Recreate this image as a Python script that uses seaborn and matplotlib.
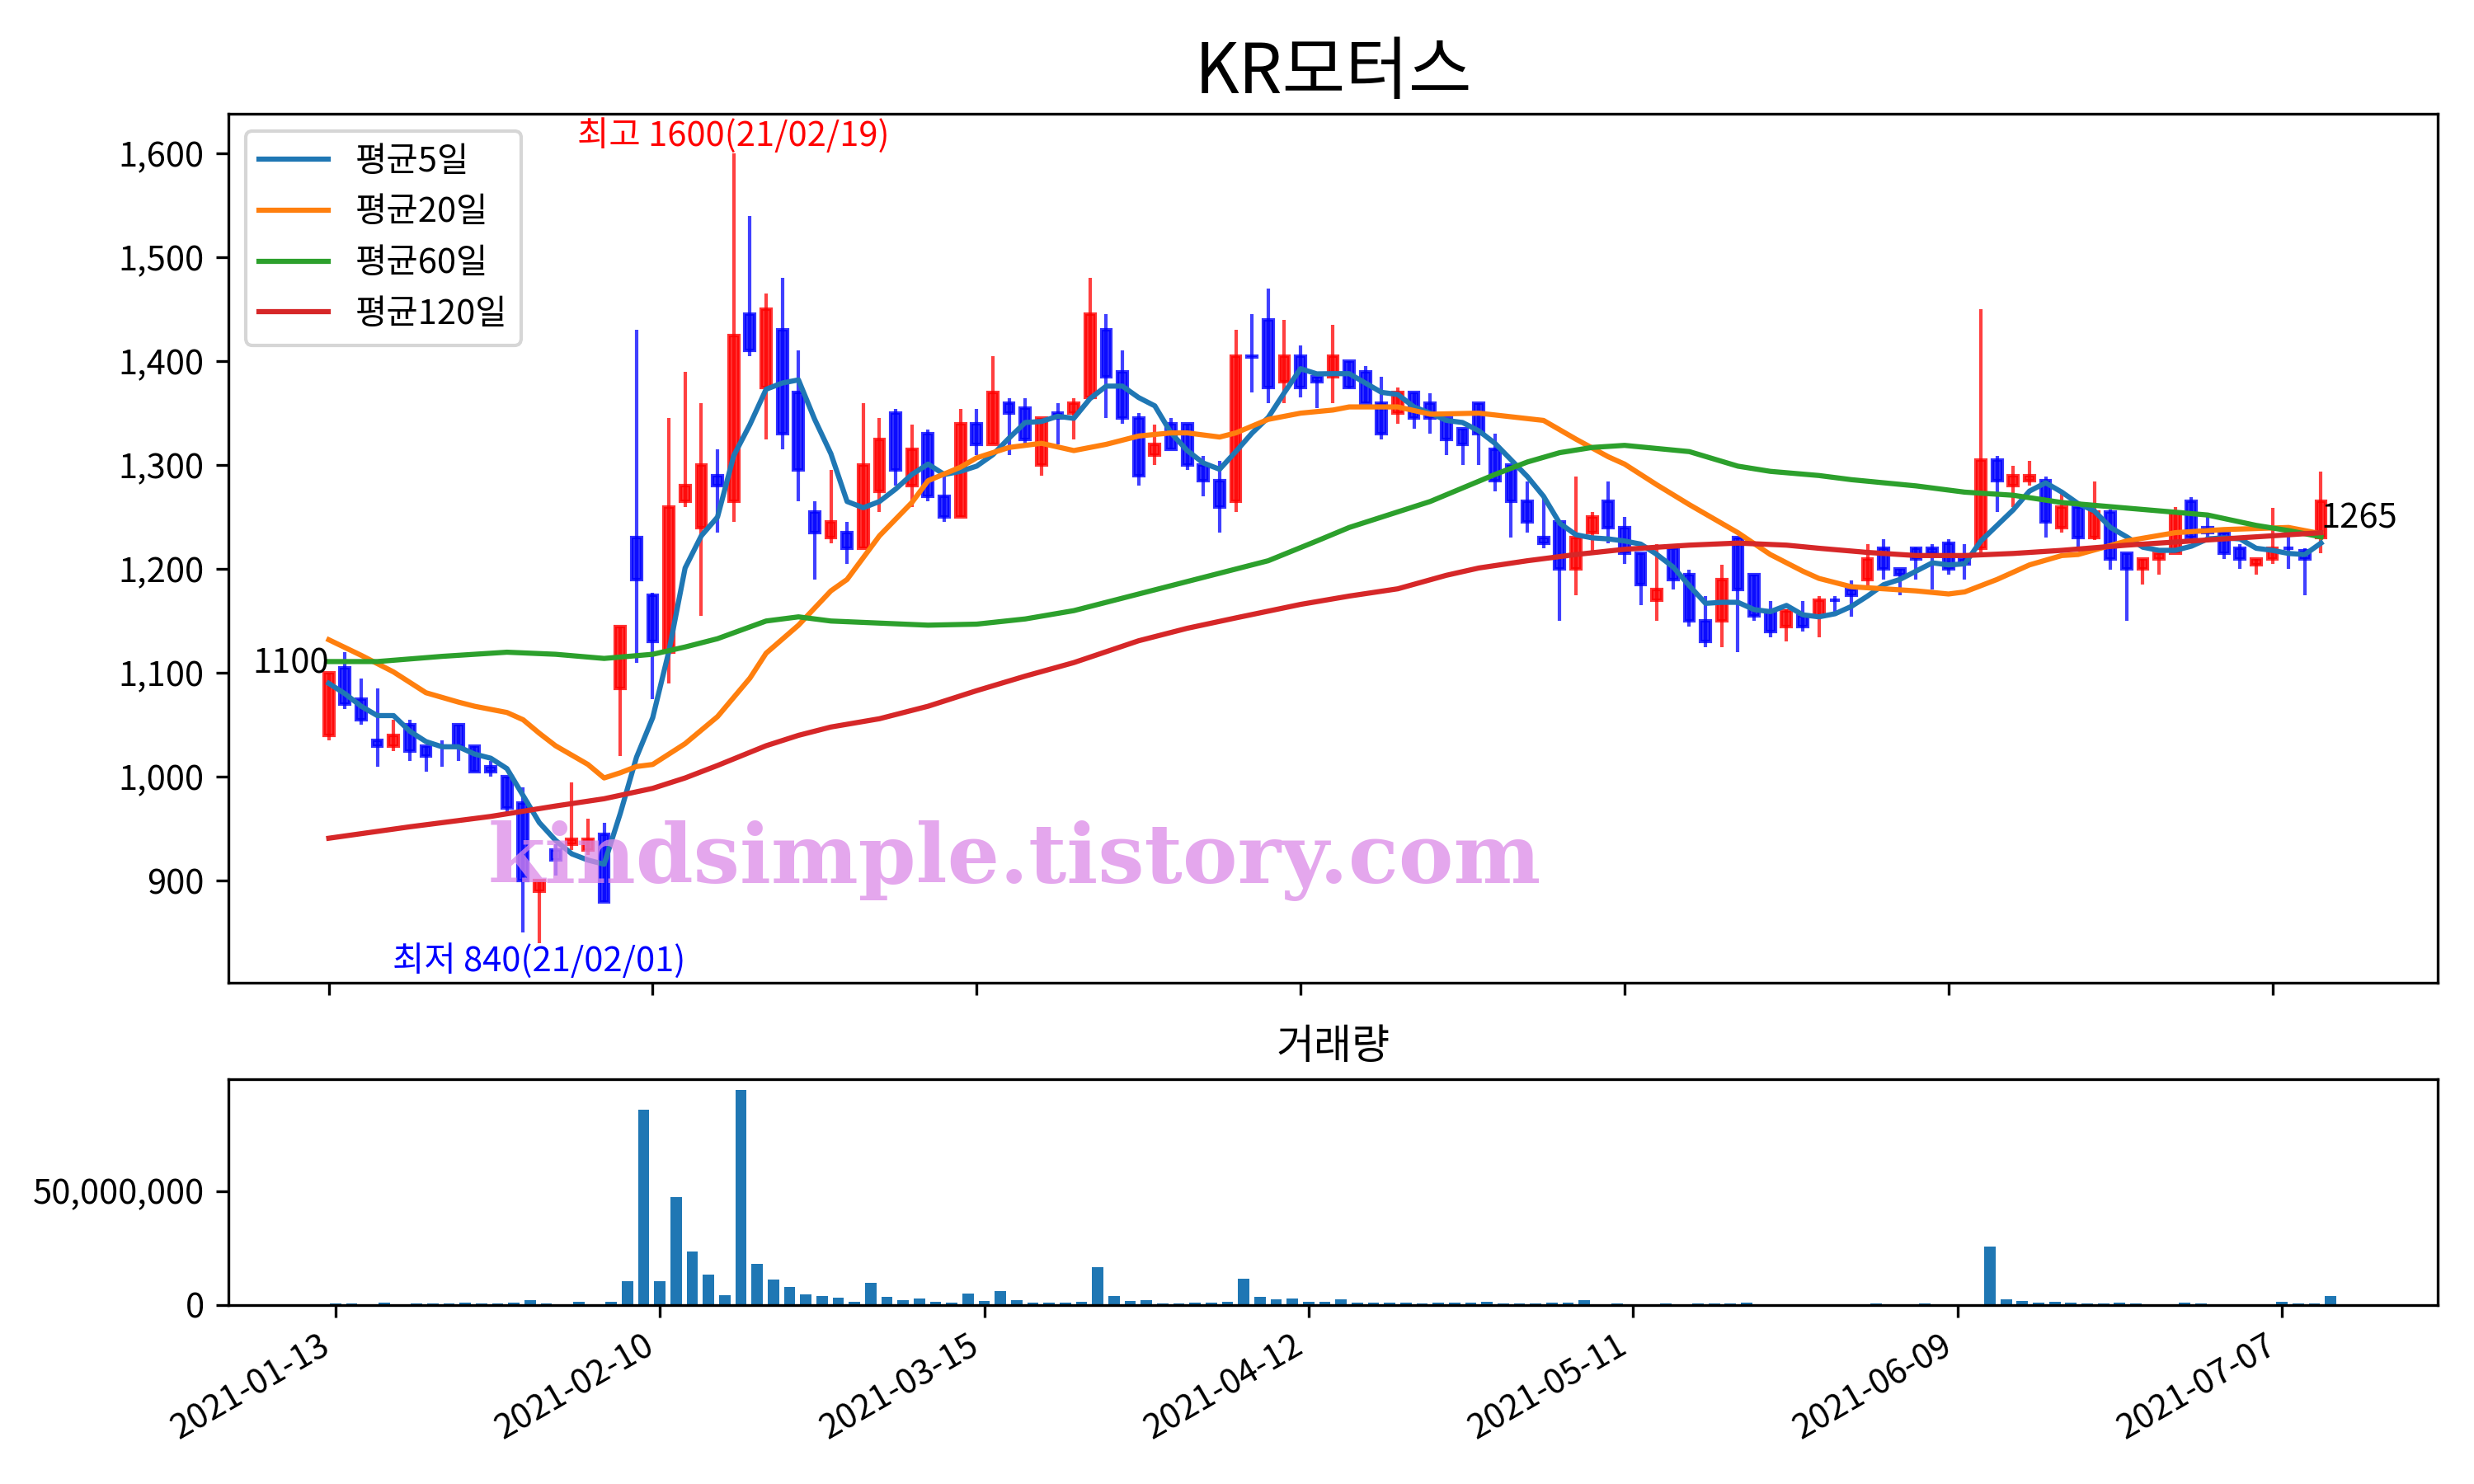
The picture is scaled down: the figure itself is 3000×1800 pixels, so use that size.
import numpy as np
import pandas as pd
import seaborn as sns
import matplotlib.pyplot as plt
from matplotlib.ticker import StrMethodFormatter, MultipleLocator

plt.rcParams['font.family'] = ['Noto Sans CJK KR', 'DejaVu Sans']

# daily candles, 2021-01-13 .. 2021-07-12 (trading days)
opens = [1040, 1105, 1075, 1035, 1030, 1050, 1030, 1030, 1050, 1030,
         1010, 1000, 975, 890, 930, 935, 930, 945, 1085, 1230,
         1175, 1120, 1265, 1240, 1290, 1265, 1445, 1375, 1430, 1370,
         1255, 1230, 1235, 1220, 1275, 1350, 1280, 1330, 1270, 1250,
         1340, 1320, 1360, 1355, 1300, 1350, 1350, 1365, 1430, 1390,
         1345, 1310, 1340, 1340, 1300, 1285, 1265, 1405, 1440, 1380,
         1405, 1385, 1385, 1400, 1390, 1360, 1350, 1370, 1360, 1345,
         1335, 1360, 1315, 1300, 1265, 1230, 1245, 1200, 1235, 1265,
         1240, 1215, 1170, 1220, 1195, 1150, 1150, 1230, 1195, 1160,
         1145, 1155, 1155, 1170, 1180, 1190, 1220, 1200, 1220, 1220,
         1225, 1210, 1220, 1305, 1280, 1285, 1285, 1240, 1260, 1230,
         1255, 1215, 1200, 1210, 1215, 1265, 1240, 1235, 1220, 1204,
         1210, 1220, 1218, 1230]
highs = [1100, 1120, 1095, 1085, 1055, 1055, 1030, 1035, 1050, 1030,
         1015, 1000, 990, 900, 935, 995, 960, 956, 1145, 1430,
         1177, 1345, 1390, 1360, 1315, 1600, 1540, 1465, 1480, 1410,
         1265, 1295, 1245, 1360, 1345, 1354, 1339, 1334, 1289, 1354,
         1354, 1405, 1364, 1364, 1345, 1360, 1364, 1480, 1445, 1410,
         1350, 1339, 1345, 1340, 1309, 1304, 1430, 1445, 1470, 1440,
         1415, 1385, 1435, 1400, 1395, 1385, 1375, 1370, 1369, 1345,
         1335, 1360, 1330, 1300, 1284, 1268, 1245, 1289, 1255, 1284,
         1250, 1215, 1224, 1220, 1199, 1174, 1204, 1230, 1195, 1169,
         1161, 1169, 1174, 1174, 1189, 1224, 1229, 1200, 1221, 1224,
         1229, 1224, 1450, 1309, 1299, 1304, 1289, 1273, 1260, 1284,
         1257, 1215, 1210, 1215, 1260, 1269, 1252, 1235, 1224, 1210,
         1259, 1231, 1220, 1294]
lows = [1035, 1065, 1050, 1010, 1025, 1015, 1005, 1010, 1015, 1005,
        1000, 965, 850, 840, 905, 930, 925, 880, 1020, 1110,
        1075, 1090, 1260, 1155, 1235, 1245, 1405, 1325, 1315, 1265,
        1190, 1225, 1205, 1220, 1255, 1280, 1260, 1265, 1245, 1250,
        1310, 1320, 1310, 1320, 1290, 1320, 1325, 1365, 1345, 1340,
        1280, 1300, 1315, 1295, 1270, 1235, 1255, 1370, 1360, 1360,
        1365, 1355, 1360, 1374, 1360, 1325, 1340, 1335, 1330, 1310,
        1300, 1300, 1275, 1230, 1235, 1220, 1150, 1175, 1218, 1225,
        1205, 1165, 1150, 1180, 1145, 1125, 1125, 1120, 1150, 1134,
        1130, 1140, 1134, 1158, 1154, 1180, 1190, 1175, 1190, 1180,
        1195, 1190, 1216, 1255, 1260, 1280, 1230, 1235, 1220, 1228,
        1199, 1150, 1185, 1195, 1215, 1228, 1230, 1210, 1200, 1195,
        1205, 1200, 1175, 1215]
closes = [1100, 1070, 1055, 1030, 1040, 1025, 1020, 1030, 1030, 1005,
          1005, 970, 900, 900, 920, 940, 940, 880, 1145, 1190,
          1130, 1260, 1280, 1300, 1280, 1425, 1410, 1450, 1330, 1295,
          1235, 1245, 1220, 1300, 1325, 1295, 1315, 1270, 1250, 1340,
          1320, 1370, 1350, 1325, 1345, 1345, 1360, 1445, 1385, 1345,
          1290, 1320, 1315, 1300, 1285, 1260, 1405, 1404, 1375, 1405,
          1375, 1380, 1405, 1375, 1360, 1330, 1370, 1345, 1345, 1325,
          1320, 1330, 1285, 1265, 1245, 1225, 1200, 1230, 1250, 1240,
          1215, 1185, 1180, 1190, 1150, 1130, 1190, 1180, 1155, 1140,
          1160, 1145, 1170, 1170, 1175, 1210, 1200, 1195, 1210, 1215,
          1200, 1205, 1305, 1285, 1290, 1290, 1245, 1260, 1230, 1255,
          1210, 1200, 1210, 1215, 1255, 1230, 1235, 1215, 1210, 1210,
          1220, 1220, 1210, 1265]
# volume in millions of shares
volume_m = [0.6, 0.6, 0.2, 1.0, 0.3, 0.6, 0.6, 0.6, 1.0, 0.6,
            0.6, 1.0, 2.0, 0.6, 0.2, 1.3, 0.2, 1.3, 10.4, 85.5,
            10.4, 47.2, 23.4, 13.3, 4.2, 94.3, 18.0, 11.1, 7.8, 4.6,
            3.9, 3.1, 1.3, 9.6, 3.5, 2.0, 2.8, 1.3, 1.0, 4.9,
            1.7, 6.0, 2.0, 1.0, 1.0, 1.0, 1.3, 16.5, 3.9, 1.7,
            2.0, 0.6, 0.6, 1.0, 1.0, 1.3, 11.4, 3.5, 2.4, 2.8,
            1.3, 1.3, 2.4, 1.0, 1.0, 1.0, 1.0, 0.6, 1.0, 1.0,
            1.0, 1.3, 0.6, 0.6, 0.6, 1.0, 1.0, 2.0, 0.2, 0.6,
            0.2, 0.2, 0.6, 0.2, 0.6, 0.6, 0.6, 1.0, 0.2, 0.2,
            0.2, 0.2, 0.2, 0.2, 0.2, 0.6, 0.2, 0.2, 0.6, 0.2,
            0.2, 0.2, 25.5, 2.4, 1.7, 1.0, 1.3, 1.0, 0.6, 0.6,
            1.0, 0.6, 0.2, 0.2, 1.0, 0.6, 0.2, 0.2, 0.2, 0.2,
            1.3, 0.6, 0.6, 3.9]

# first four 5-day averages (need closes before the window)
ma5_head = [1090, 1080, 1068, 1059]

# longer averages at (index, value)
ma20_x = [0, 2, 4, 6, 8, 9, 11, 12, 13, 14, 16, 17, 18, 19, 20, 22, 24, 26, 27, 29,
          31, 32, 34, 36, 37, 39, 40, 42, 44, 46, 48, 50, 52, 53, 55, 56, 58, 60, 62,
          63, 66, 68, 71, 75, 76, 77, 79, 80, 82, 84, 87, 89, 91, 92, 94, 98, 100,
          101, 103, 105, 107, 108, 111, 114, 117, 121, 123]
ma20_y = [1132, 1117, 1101, 1081, 1072, 1068, 1062, 1055, 1042, 1030, 1012, 999, 1004,
          1010, 1012, 1032, 1058, 1095, 1119, 1146, 1179, 1190, 1232, 1264, 1285, 1298,
          1307, 1317, 1321, 1314, 1320, 1328, 1331, 1331, 1327, 1331, 1344, 1350, 1353,
          1356, 1356, 1349, 1350, 1343, 1334, 1325, 1308, 1301, 1281, 1262, 1235, 1214,
          1198, 1191, 1183, 1179, 1176, 1178, 1190, 1204, 1213, 1214, 1227, 1235, 1238,
          1240, 1234]
ma60_x = [0, 3, 7, 11, 14, 17, 20, 22, 24, 27, 29, 31, 34, 37, 40, 43, 46, 48, 51, 55,
          58, 61, 63, 65, 68, 70, 72, 74, 76, 78, 80, 84, 87, 89, 92, 94, 98, 101, 104,
          107, 110, 113, 116, 119, 121, 123]
ma60_y = [1111, 1111, 1116, 1120, 1118, 1114, 1118, 1125, 1133, 1150, 1154, 1150, 1148,
          1146, 1147, 1152, 1160, 1168, 1180, 1196, 1208, 1227, 1240, 1250, 1265, 1278,
          1291, 1303, 1312, 1317, 1319, 1313, 1299, 1294, 1290, 1286, 1280, 1274, 1271,
          1264, 1260, 1256, 1252, 1242, 1237, 1231]
ma120_x = [0, 5, 10, 14, 17, 20, 22, 24, 27, 29, 31, 34, 37, 40, 43, 46, 50, 53, 56, 60,
           63, 66, 69, 71, 74, 77, 80, 84, 87, 90, 92, 95, 98, 101, 104, 107, 111, 116,
           120, 123]
ma120_y = [941, 952, 962, 972, 979, 989, 999, 1011, 1030, 1040, 1048, 1056, 1068, 1083,
           1097, 1110, 1131, 1143, 1153, 1166, 1174, 1181, 1194, 1201, 1208, 1214, 1219,
           1223, 1225, 1223, 1220, 1216, 1213, 1213, 1215, 1218, 1223, 1228, 1232, 1235]

tick_pos = [0, 20, 40, 60, 80, 100, 120]
tick_labels = ['2021-01-13', '2021-02-10', '2021-03-15', '2021-04-12',
               '2021-05-11', '2021-06-09', '2021-07-07']

df = pd.DataFrame({'open': opens, 'high': highs, 'low': lows, 'close': closes,
                   'volume': np.array(volume_m) * 1e6})
df['idx'] = np.arange(len(df))
ma5 = df['close'].rolling(5).mean().to_numpy()
ma5[:4] = ma5_head

fig = plt.figure(figsize=(10, 6), dpi=300)
ax = fig.add_axes([0.0923, 0.3378, 0.893, 0.5855])
axv = fig.add_axes([0.0923, 0.1206, 0.893, 0.1522])

# candles
up = df['close'] > df['open']
colors = np.where(up, 'red', 'blue')
ax.vlines(df['idx'], df['low'], df['high'], colors=colors, linewidth=1.0, alpha=0.75)
body_lo = df[['open', 'close']].min(axis=1)
body_h = (df['close'] - df['open']).abs()
ax.bar(df['idx'], body_h, bottom=body_lo, width=0.6, color=colors,
       edgecolor=colors, linewidth=1.0, alpha=0.8)

# moving averages
lw = 1.5
sns.lineplot(x=df['idx'], y=ma5, ax=ax, color='tab:blue', linewidth=lw, label='평균5일')
sns.lineplot(x=ma20_x, y=ma20_y, ax=ax, color='tab:orange', linewidth=lw, label='평균20일')
sns.lineplot(x=ma60_x, y=ma60_y, ax=ax, color='tab:green', linewidth=lw, label='평균60일')
sns.lineplot(x=ma120_x, y=ma120_y, ax=ax, color='tab:red', linewidth=lw, label='평균120일')
ax.legend(loc='upper left')

ax.text(25, 1600, '최고 1600(21/02/19)', color='red', ha='center', va='bottom')
ax.text(13, 840, '최저 840(21/02/01)', color='blue', ha='center', va='top')
ax.text(0, 1100, '1100', ha='right', va='baseline')
ax.text(123, 1265, '1265', ha='left', va='top')
ax.text(0.356, 0.14, 'kindsimple.tistory.com', transform=ax.transAxes,
        ha='center', va='center', fontsize=24, fontweight='heavy',
        family='DejaVu Serif', color='#dc8ae8', alpha=0.75, zorder=10)

ax.set_title('KR모터스', fontsize=20)
ax.set_xlim(-6.2, 130.2)
ax.set_ylim(802, 1638)
ax.set_xticks(tick_pos)
ax.tick_params(labelbottom=False)
ax.yaxis.set_major_formatter(StrMethodFormatter('{x:,.0f}'))
ax.set_xlabel('')
ax.set_ylabel('')

# volume
sns.barplot(x=df['idx'], y=df['volume'], ax=axv, color='#1f77b4', saturation=1,
            width=0.7, errorbar=None, native_scale=True)
axv.set_xlim(-6.6, 129.6)
axv.set_ylim(0, 99e6)
axv.set_xticks(tick_pos)
axv.set_xticklabels(tick_labels, rotation=30, ha='right')
axv.yaxis.set_major_locator(MultipleLocator(5e7))
axv.yaxis.set_major_formatter(StrMethodFormatter('{x:,.0f}'))
axv.set_title('거래량')
axv.set_xlabel('')
axv.set_ylabel('')

fig.savefig('out.png', dpi=300)
